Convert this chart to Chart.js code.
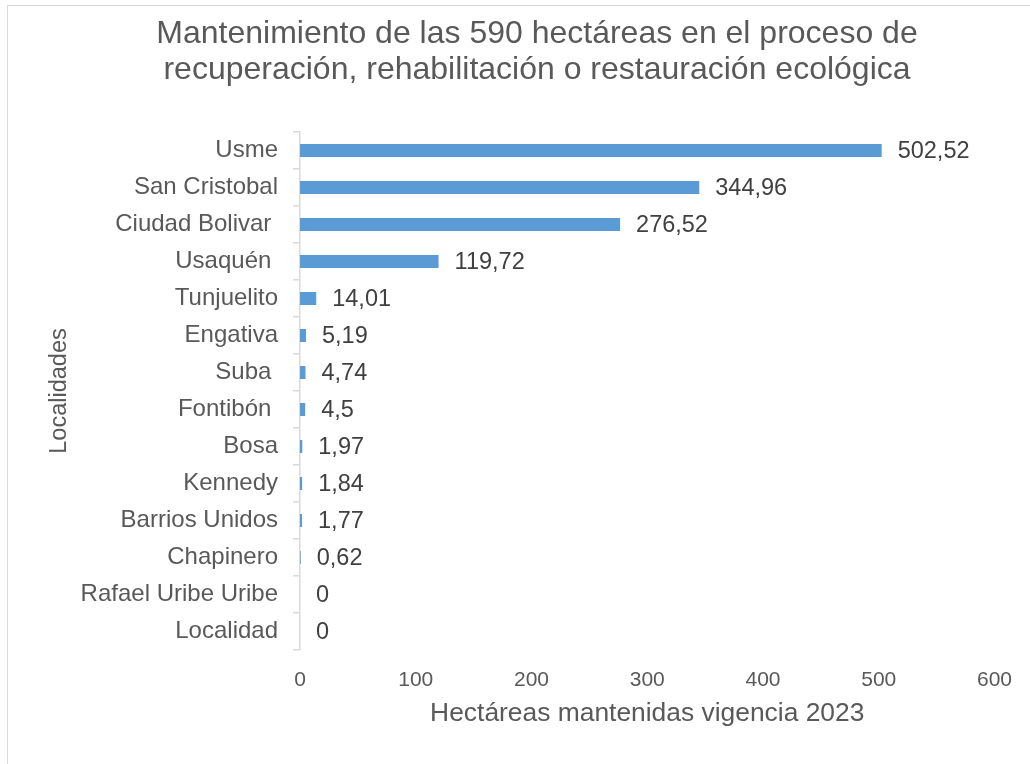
<!DOCTYPE html>
<html lang="es">
<head>
<meta charset="utf-8">
<title>Mantenimiento de hectáreas</title>
<script src="https://cdn.jsdelivr.net/npm/chart.js@4.4.1/dist/chart.umd.min.js"></script>
<style>
  html, body { margin: 0; padding: 0; background: #fff; overflow: hidden; }
  #frame {
    position: absolute; left: 7px; top: 5px;
    width: 1100px; height: 800px;
    border: 1.5px solid #d9d9d9;
  }
  #chart { position: absolute; left: 0; top: 0; }
</style>
</head>
<body>
<div id="frame"></div>
<canvas id="chart" width="1030" height="764"></canvas>
<script>
// Localidades (top to bottom) and maintained hectares
const localidades = [
  "Usme", "San Cristobal", "Ciudad Bolivar ", "Usaquén ", "Tunjuelito",
  "Engativa", "Suba ", "Fontibón ", "Bosa", "Kennedy", "Barrios Unidos",
  "Chapinero", "Rafael Uribe Uribe", "Localidad"
];
const hectareas = [
  502.52, 344.96, 276.52, 119.72, 14.01,
  5.19, 4.74, 4.5, 1.97, 1.84, 1.77,
  0.62, 0, 0
];
const xTicks = [0, 100, 200, 300, 400, 500, 600];
const titleLines = [
  "Mantenimiento de las 590 hectáreas en el proceso de",
  "recuperación, rehabilitación o restauración ecológica"
];

const FONT = "'Liberation Sans', Arial, sans-serif";
const GRAY = "#595959";
const LINE = "#d9d9d9";

// Two-line heading above the plot
const titlePlugin = {
  id: "chartTitle",
  afterDraw(chart) {
    const ctx = chart.ctx;
    ctx.save();
    ctx.font = "32px " + FONT;
    ctx.fillStyle = GRAY;
    ctx.textAlign = "center";
    ctx.textBaseline = "alphabetic";
    titleLines.forEach((line, i) => ctx.fillText(line, 537, 43 + i * 35.5));
    ctx.restore();
  }
};

// Value next to the end of each bar, with a decimal comma
const valueLabels = {
  id: "valueLabels",
  afterDatasetsDraw(chart) {
    const ctx = chart.ctx;
    const meta = chart.getDatasetMeta(0);
    ctx.save();
    ctx.font = "23.5px " + FONT;
    ctx.fillStyle = "#404040";
    ctx.textAlign = "left";
    ctx.textBaseline = "middle";
    meta.data.forEach((bar, i) => {
      const text = String(hectareas[i]).replace(".", ",");
      ctx.fillText(text, bar.x + 16, bar.y + 1);
    });
    ctx.restore();
  }
};

new Chart(document.getElementById("chart").getContext("2d"), {
  type: "bar",
  data: {
    labels: localidades,
    datasets: [{
      data: hectareas,
      backgroundColor: "#5b9bd5",
      borderWidth: 0,
      categoryPercentage: 1,
      barPercentage: 0.35
    }]
  },
  options: {
    indexAxis: "y",
    responsive: false,
    animation: false,
    layout: { padding: { top: 132, left: 20, right: 35, bottom: 30 } },
    plugins: {
      legend: { display: false },
      tooltip: { enabled: false },
      title: { display: false }
    },
    scales: {
      x: {
        min: 0,
        max: 600,
        afterBuildTicks(scale) {
          scale.ticks = xTicks.map(v => ({ value: v }));
        },
        afterFit(scale) { scale.height = 84; },
        grid: { display: false, drawTicks: false },
        border: { display: false },
        ticks: {
          padding: 18,
          color: GRAY,
          font: { family: FONT, size: 21 }
        },
        title: {
          display: true,
          text: "Hectáreas mantenidas vigencia 2023",
          color: GRAY,
          font: { family: FONT, size: 26.4 },
          padding: { top: 5, bottom: 4 }
        }
      },
      y: {
        afterFit(scale) { scale.width = 280; },
        grid: {
          offset: true,
          drawOnChartArea: false,
          drawTicks: true,
          tickLength: 7,
          color: LINE,
          lineWidth: 1.5
        },
        border: { display: true, color: LINE, width: 1.5 },
        ticks: {
          padding: 15,
          color: GRAY,
          autoSkip: false,
          font: { family: FONT, size: 24 }
        },
        title: {
          display: true,
          text: "Localidades",
          color: GRAY,
          font: { family: FONT, size: 23.5 },
          padding: { top: 25, bottom: 0 }
        }
      }
    }
  },
  plugins: [titlePlugin, valueLabels]
});
</script>
</body>
</html>
